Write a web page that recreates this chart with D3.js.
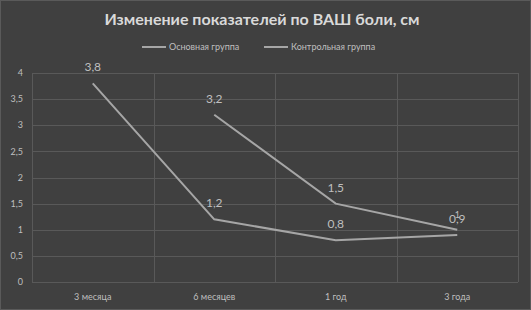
<!DOCTYPE html>
<html>
<head>
<meta charset="utf-8">
<script src="https://cdn.jsdelivr.net/npm/d3@7"></script>
<style>
  body { margin: 0; background: #404040; }
  svg { display: block; font-family: Lato, "Open Sans", sans-serif; }
</style>
</head>
<body>
<svg id="chart" width="531" height="310"></svg>
<script>
// data
const categories = ["3 месяца", "6 месяцев", "1 год", "3 года"];
const mainGroup = [3.8, 1.2, 0.8, 0.9];
const controlGroup = [null, 3.2, 1.5, 1.0];
const seriesNames = ["Основная группа", "Контрольная группа"];
const yTicks = [0, 0.5, 1, 1.5, 2, 2.5, 3, 3.5, 4];

const width = 531, height = 310;
const margin = { top: 73, right: 13, bottom: 28, left: 32 };

const svg = d3.select("#chart");

svg.append("rect")
  .attr("x", 0.5).attr("y", 0.5)
  .attr("width", width - 1).attr("height", height - 1)
  .attr("fill", "#404040")
  .attr("stroke", "#5a5a5a");

const x = d3.scaleBand()
  .domain(categories)
  .range([margin.left, width - margin.right]);

const y = d3.scaleLinear()
  .domain([0, 4])
  .range([height - margin.bottom, margin.top]);

// horizontal grid
svg.append("g")
  .selectAll("line")
  .data(yTicks)
  .join("line")
  .attr("x1", margin.left)
  .attr("x2", width - margin.right)
  .attr("y1", d => Math.round(y(d)) + 0.5)
  .attr("y2", d => Math.round(y(d)) + 0.5)
  .attr("stroke", "#595959")
  .attr("stroke-width", 1);

// vertical grid at category borders
const borders = categories.map(c => x(c)).concat([x.range()[1]]);
svg.append("g")
  .selectAll("line")
  .data(borders)
  .join("line")
  .attr("x1", d => Math.round(d) + 0.5)
  .attr("x2", d => Math.round(d) + 0.5)
  .attr("y1", y(4))
  .attr("y2", y(0))
  .attr("stroke", "#595959")
  .attr("stroke-width", 1);

// y axis labels
svg.append("g")
  .selectAll("text")
  .data(yTicks)
  .join("text")
  .attr("x", 23)
  .attr("y", d => y(d))
  .attr("dy", "0.35em")
  .attr("text-anchor", "end")
  .attr("fill", "#bfbfbf")
  .attr("font-size", 9)
  .text(d => String(d).replace(".", ","));

// x axis labels
svg.append("g")
  .selectAll("text")
  .data(categories)
  .join("text")
  .attr("x", d => x(d) + x.bandwidth() / 2)
  .attr("y", 297)
  .attr("dy", "0.35em")
  .attr("text-anchor", "middle")
  .attr("fill", "#bfbfbf")
  .attr("font-size", 9)
  .text(d => d);

const lineColor = "#a6a6a6";
const line = d3.line()
  .defined(d => d.v != null)
  .x(d => x(d.c) + x.bandwidth() / 2)
  .y(d => y(d.v));

[mainGroup, controlGroup].forEach((vals, si) => {
  const pts = categories.map((c, i) => ({ c: c, v: vals[i] }));
  svg.append("path")
    .datum(pts)
    .attr("d", line)
    .attr("fill", "none")
    .attr("stroke", lineColor)
    .attr("stroke-width", 2);

  svg.append("g")
    .selectAll("text")
    .data(pts.filter(d => d.v != null))
    .join("text")
    .attr("x", d => x(d.c) + x.bandwidth() / 2)
    .attr("y", d => y(d.v) - 12)
    .attr("text-anchor", "middle")
    .attr("fill", "#bfbfbf")
    // the last control label sits on top of 0,9 in the original, smaller
    .attr("font-size", (d, i, n) => (si === 1 && i === n.length - 1) ? 9 : 12)
    .text(d => String(d.v).replace(".", ","));
});

// title
svg.append("text")
  .attr("x", 262)
  .attr("y", 25)
  .attr("text-anchor", "middle")
  .attr("fill", "#d9d9d9")
  .attr("font-size", 16)
  .attr("font-weight", "bold")
  .text("Изменение показателей по ВАШ боли, см");

// legend
const legendX = [142, 264];
seriesNames.forEach((name, i) => {
  const g = svg.append("g").attr("transform", `translate(${legendX[i]},47)`);
  g.append("line")
    .attr("x1", 0).attr("x2", 24)
    .attr("stroke", lineColor)
    .attr("stroke-width", 2);
  g.append("text")
    .attr("x", 27)
    .attr("dy", "0.35em")
    .attr("fill", "#bfbfbf")
    .attr("font-size", 9)
    .text(name);
});
</script>
</body>
</html>
